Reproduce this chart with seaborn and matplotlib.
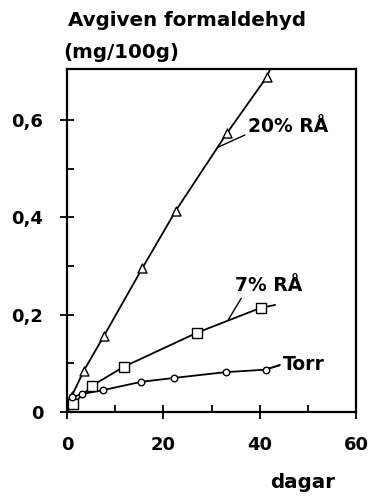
import matplotlib
matplotlib.use("Agg")
import matplotlib.pyplot as plt
import seaborn as sns
import numpy as np
from matplotlib.ticker import FixedLocator

# ---- data ----
days_20 = [1, 3.5, 7.7, 15.6, 22.6, 33.2, 41.5]
val_20 = [0.033, 0.085, 0.157, 0.295, 0.414, 0.573, 0.689]
days_7 = [1.2, 5.2, 11.8, 27.0, 40.2]
val_7 = [0.016, 0.054, 0.093, 0.163, 0.214]
days_torr = [1.0, 3.1, 7.5, 15.4, 22.2, 33.0, 41.3]
val_torr = [0.030, 0.037, 0.045, 0.062, 0.070, 0.082, 0.087]

# curve start / end (curves drawn beyond last measurement)
start_day, start_val = 0.0, 0.0
end_20 = (42.2, 0.705)
end_7 = (43.2, 0.220)
end_torr = (44.2, 0.097)

x_ticks = [0, 20, 40, 60]
x_minor = [10, 30, 50]
x_tick_labels = ["0", "20", "40", "60"]
y_ticks = [0, 0.2, 0.4, 0.6]
y_minor = [0.1, 0.3, 0.5]
y_tick_labels = ["0", "0,2", "0,4", "0,6"]

title_1 = "Avgiven formaldehyd"
title_2 = "(mg/100g)"
x_label = "dagar"
labels = ["20% RÅ", "7% RÅ", "Torr"]

sns.set_style("ticks")
plt.rcParams["font.family"] = ["DejaVu Sans"]
plt.rcParams["text.color"] = "black"
plt.rcParams["font.weight"] = "bold"

fig = plt.figure(figsize=(3.73, 4.97), dpi=100)
ax = fig.add_axes([67 / 373, 1 - 412 / 497, (356 - 67) / 373, (412 - 69) / 497])

series = [
    (days_20, val_20, end_20, "^", 42),
    (days_7, val_7, end_7, "s", 50),
    (days_torr, val_torr, end_torr, "o", 22),
]
for d, v, e, m, s in series:
    lx = [start_day] + list(d) + [e[0]]
    ly = [start_val] + list(v) + [e[1]]
    sns.lineplot(x=lx, y=ly, ax=ax, color="black", linewidth=1.3, sort=False,
                 estimator=None)
    sns.scatterplot(x=d, y=v, ax=ax, marker=m, s=s, facecolor="white",
                    edgecolor="black", linewidth=1.0, zorder=5)

ax.set_xlim(0, 60)
ax.set_ylim(0, 0.705)

fs_ann = 13.5
ax.annotate(labels[0], xy=(31.3, 0.544), xytext=(37.6, 0.586),
            fontsize=fs_ann, fontweight="bold", va="center", ha="left",
            arrowprops=dict(arrowstyle="-", color="black", lw=1.0, shrinkA=0, shrinkB=0,
                            relpos=(0, 0.15)))
ax.annotate(labels[1], xy=(33.4, 0.188), xytext=(34.9, 0.260),
            fontsize=fs_ann, fontweight="bold", va="center", ha="left",
            arrowprops=dict(arrowstyle="-", color="black", lw=1.0, shrinkA=0, shrinkB=0,
                            relpos=(0.12, 0.0)))
ax.annotate(labels[2], xy=(41.7, 0.089), xytext=(44.8, 0.097),
            fontsize=fs_ann, fontweight="bold", va="center", ha="left",
            arrowprops=dict(arrowstyle="-", color="black", lw=1.0, shrinkA=0, shrinkB=0,
                            relpos=(0, 0.5)))

for sp in ax.spines.values():
    sp.set_linewidth(1.6)
    sp.set_color("black")

ax.xaxis.set_major_locator(FixedLocator(x_ticks))
ax.set_xticklabels(x_tick_labels, fontweight="bold")
ax.xaxis.set_minor_locator(FixedLocator(x_minor))
ax.yaxis.set_major_locator(FixedLocator(y_ticks))
ax.set_yticklabels(y_tick_labels, fontweight="bold")
ax.yaxis.set_minor_locator(FixedLocator(y_minor))
ax.tick_params(which="major", direction="inout", length=10, width=1.3,
               labelsize=13, colors="black")
ax.tick_params(which="minor", direction="in", length=5, width=1.3, colors="black")
ax.tick_params(axis="y", which="major", pad=12)
ax.tick_params(axis="x", which="major", pad=12)
ax.set_xlabel("")
ax.set_ylabel("")

fig.text(68 / 373, 1 - 21 / 497, title_1, fontsize=14.3, fontweight="bold",
         va="center", ha="left")
fig.text(63 / 373, 1 - 53 / 497, title_2, fontsize=14.3, fontweight="bold",
         va="center", ha="left")
fig.text(270 / 373, 1 - 483 / 497, x_label, fontsize=14.3, fontweight="bold",
         va="center", ha="left")

fig.savefig("out.png", dpi=100, facecolor="white")
